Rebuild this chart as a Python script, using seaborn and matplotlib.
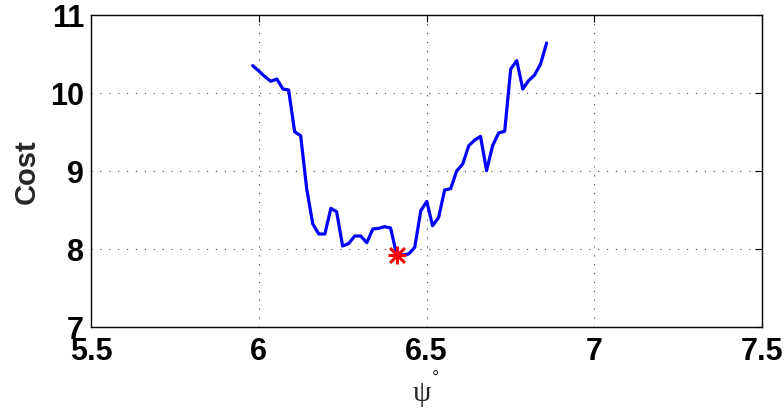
import numpy as np
import pandas as pd
import matplotlib
matplotlib.use("Agg")
import matplotlib.pyplot as plt
import seaborn as sns

# Data
psi_deg = [5.982, 6.000, 6.018, 6.036, 6.054, 6.072, 6.089, 6.107, 6.125, 6.143,
           6.161, 6.179, 6.197, 6.215, 6.232, 6.250, 6.268, 6.286, 6.304, 6.322,
           6.340, 6.358, 6.375, 6.393, 6.411, 6.429, 6.447, 6.465, 6.483, 6.501,
           6.518, 6.536, 6.554, 6.572, 6.590, 6.608, 6.626, 6.644, 6.661, 6.679,
           6.697, 6.715, 6.733, 6.751, 6.769, 6.787, 6.804, 6.822, 6.840, 6.858]
cost = [10.344, 10.276, 10.205, 10.144, 10.173, 10.045, 10.032, 9.497, 9.446, 8.763,
        8.314, 8.186, 8.186, 8.515, 8.472, 8.032, 8.064, 8.160, 8.160, 8.074,
        8.250, 8.259, 8.280, 8.263, 7.920, 7.917, 7.930, 8.015, 8.485, 8.603,
        8.292, 8.395, 8.750, 8.767, 8.994, 9.083, 9.318, 9.391, 9.438, 8.997,
        9.318, 9.481, 9.503, 10.301, 10.408, 10.045, 10.151, 10.224, 10.365, 10.635]
best_psi = [6.411]
best_cost = [7.920]

x_ticks = [5.5, 6, 6.5, 7, 7.5]
x_ticklabels = ["5.5", "6", "6.5", "7", "7.5"]
y_ticks = [7, 8, 9, 10, 11]

sns.set_style("white")
plt.rcParams['font.family'] = ['Liberation Sans', 'DejaVu Sans']

fig = plt.figure(figsize=(7.84, 4.10), dpi=100)
ax = fig.add_axes([91/784, 1 - 327.5/410, (762 - 91)/784, (327.5 - 15.5)/410])

df = pd.DataFrame({"psi": psi_deg, "cost": cost})
sns.lineplot(data=df, x="psi", y="cost", ax=ax, color=(0, 0, 1), linewidth=2.3,
             sort=False, estimator=None)
sns.scatterplot(x=best_psi, y=best_cost, ax=ax, marker='+', color='red', s=170,
                linewidth=2.2, zorder=5)
sns.scatterplot(x=best_psi, y=best_cost, ax=ax, marker='x', color='red', s=115,
                linewidth=2.2, zorder=5)

ax.set_xlim(5.5, 7.5)
ax.set_ylim(7, 11)
ax.set_xticks(x_ticks)
ax.set_xticklabels(x_ticklabels)
ax.set_yticks(y_ticks)
ax.grid(True, linestyle=(0, (1, 7)), color='#444444', linewidth=0.8)
for s in ax.spines.values():
    s.set_visible(True)
    s.set_color('black')
    s.set_linewidth(1.0)
ax.tick_params(direction='in', length=5, width=0.8, top=True, right=True,
               labelsize=22, colors='black')
ax.tick_params(axis='x', pad=7)
ax.tick_params(axis='y', pad=5)
for lab in ax.get_xticklabels() + ax.get_yticklabels():
    lab.set_fontweight('bold')
ax.set_xlabel('ψ', fontsize=21, family=['Liberation Serif', 'DejaVu Serif'],
              labelpad=10, x=(422 - 91) / 671)
fig.text(436/784, 1 - 383/410, '°', fontsize=13, ha='center', va='baseline',
         family=['Liberation Sans', 'DejaVu Sans'])
ax.set_ylabel('Cost', fontsize=21, fontweight='bold', labelpad=7)

fig.savefig("out.png", dpi=100, facecolor='white')
